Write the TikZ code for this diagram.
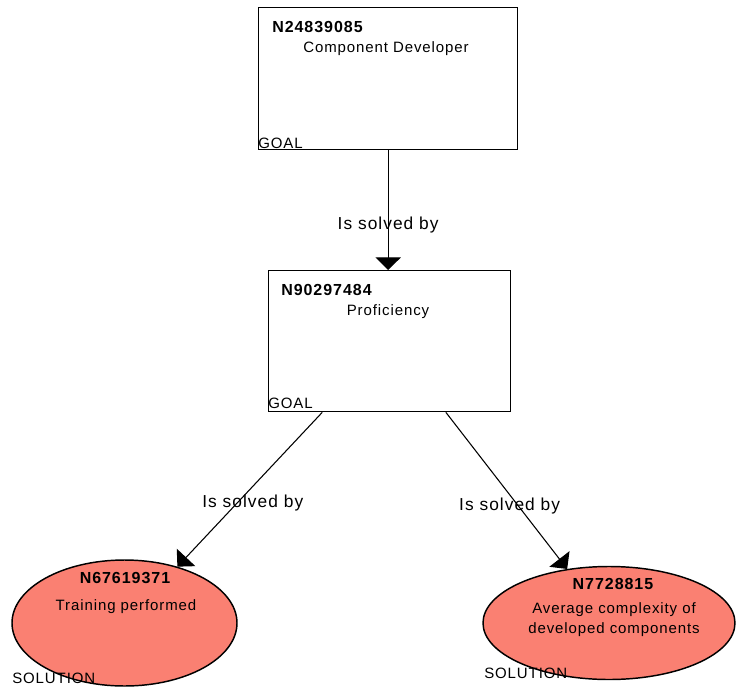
\documentclass[tikz,border=0pt]{standalone}
\usepackage{fontspec}
\setmainfont{Liberation Sans}[LetterSpace=6]
\usetikzlibrary{arrows.meta,shapes.geometric,calc}
\begin{document}
\begin{tikzpicture}[x=0.75pt,y=-0.75pt,
  goalbox/.style={draw,line width=1pt,rectangle,inner sep=0pt,anchor=north west},
  solution/.style={draw,line width=1.1pt,ellipse,inner sep=0pt,fill={rgb,255:red,250;green,128;blue,114}},
  nodeid/.style={font=\fontsize{12}{14}\selectfont\bfseries,inner sep=0pt},
  nodetext/.style={font=\fontsize{11.25}{15}\selectfont,inner sep=0pt,anchor=base},
  kindtag/.style={font=\fontsize{11.25}{13}\selectfont,inner sep=0pt,anchor=base west},
  solves/.style={line width=0.8pt,-{Triangle[width=19pt,length=9.5pt]}},
  edgelabel/.style={font=\fontsize{13}{15}\selectfont,inner sep=0pt}]
\useasboundingbox (0,0) rectangle (736,689);

% goals
\node[goalbox,minimum width=194.25pt,minimum height=106.5pt] (g1) at (258,7) {};
\node[nodeid,anchor=base west] (g1id) at (272,32) {N24839085};
\node[nodetext] (g1txt) at (386,52) {Component Developer};
\node[kindtag] (g1tag) at (258,148) {GOAL};

\node[goalbox,minimum width=181.5pt,minimum height=105.75pt] (g2) at (268,270) {};
\node[nodeid,anchor=base west] (g2id) at (281,295) {N90297484};
\node[nodetext] (g2txt) at (388,315) {Proficiency};
\node[kindtag] (g2tag) at (268,408) {GOAL};

% solutions
\node[solution,minimum width=168.75pt,minimum height=94.5pt] (s1) at (124.5,623) {};
\node[nodeid,anchor=base] (s1id) at (125,583) {N67619371};
\node[nodetext] (s1txt) at (126,610) {Training performed};
\node[kindtag] (s1tag) at (12,683) {SOLUTION};

\node[solution,minimum width=189pt,minimum height=84.75pt] (s2) at (609,623) {};
\node[nodeid,anchor=base] (s2id) at (613,589) {N7728815};
\node[nodetext] (s2txt1) at (614,613) {Average complexity of};
\node[nodetext] (s2txt2) at (614,633) {developed components};
\node[kindtag] (s2tag) at (484,678) {SOLUTION};

% connectors
\coordinate (g2l) at ($(g2.south west)!0.223!(g2.south east)$);
\coordinate (g2r) at ($(g2.south west)!0.731!(g2.south east)$);
\draw[solves] (g1.south) -- (g1.south |- g2.north)
  node[edgelabel,pos=0.62] (l1) {Is solved by};
\draw[solves] (g2l) -- (s1)
  node[edgelabel,pos=0.59,xshift=12pt] (l2) {Is solved by};
\draw[solves] (g2r) -- (s2)
  node[edgelabel,pos=0.6,xshift=-6.75pt] (l3) {Is solved by};
\end{tikzpicture}
\end{document}
